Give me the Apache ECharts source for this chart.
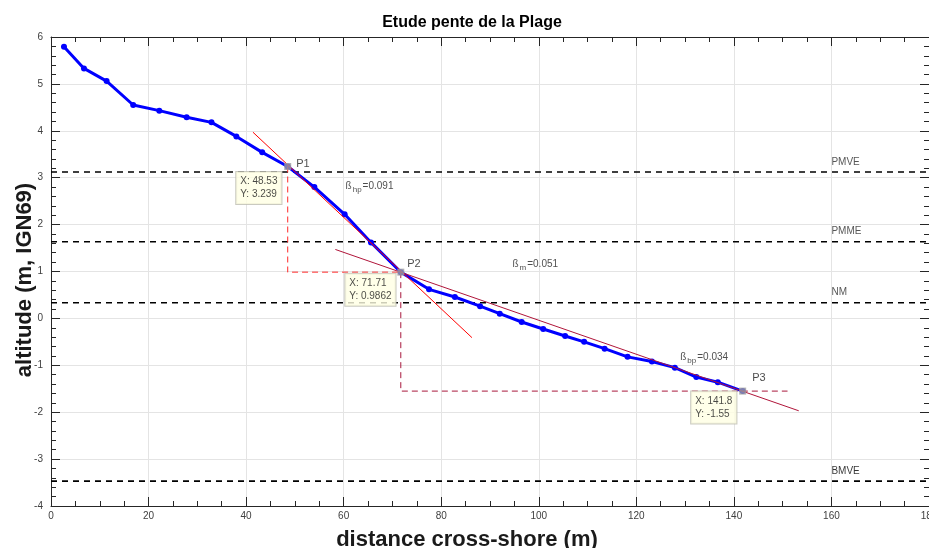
<!DOCTYPE html>
<html>
<head>
<meta charset="utf-8">
<script src="https://cdn.jsdelivr.net/npm/echarts@6/dist/echarts.min.js"></script>
<style>html,body{margin:0;padding:0;background:#fff;}#c{width:929px;height:548px;}</style>
</head>
<body>
<div id="c"></div>
<script>
// ---- data ----
var profileX = [2.66, 6.76, 11.4, 16.85, 22.2, 27.8, 32.9, 38.0, 43.3, 48.53, 54.0, 60.2, 65.6, 71.71, 77.5, 82.8, 87.96, 92.0, 96.5, 100.9, 105.4, 109.3, 113.5, 118.2, 123.2, 127.9, 132.3, 136.7, 141.8];
var profileY = [5.79, 5.33, 5.06, 4.55, 4.43, 4.29, 4.18, 3.88, 3.54, 3.239, 2.80, 2.22, 1.62, 0.9862, 0.62, 0.456, 0.26, 0.10, -0.077, -0.226, -0.375, -0.50, -0.645, -0.82, -0.92, -1.05, -1.25, -1.36, -1.55];
var keyPointsX = [48.53, 71.71, 141.8];
var keyPointsY = [3.239, 0.9862, -1.55];
var keyNames = ['P1', 'P2', 'P3'];
var upperFitX = [41.4, 86.3];
var upperFitY = [3.97, -0.41];
var lowerFitX = [58.3, 153.3];
var lowerFitY = [1.47, -1.97];
var lowerDashEndX = 151;
var levelNames = ['PMVE', 'PMME', 'NM', 'BMVE'];
var levelValues = [3.12, 1.635, 0.335, -3.47];
var levelLabelX = 160;
var slopeSubs = ['hp', 'm', 'bp'];
var slopeValues = ['0.091', '0.051', '0.034'];
var slopeLabelX = [60.4, 94.6, 129.0];
var slopeLabelY = [2.82, 1.16, -0.82];
var xTicks = {min: 0, max: 180, interval: 20};
var yTicks = {min: -4, max: 6, interval: 1};

// ---- build option ----
function zip(a, b) { return a.map(function (v, i) { return [v, b[i]]; }); }

var axisCol = '#262626';
var labCol = '#404040';
var font = 'Liberation Sans, Arial, Helvetica, sans-serif';

var series = [];

// horizontal tide levels
levelValues.forEach(function (lv, i) {
  series.push({
    type: 'line', xAxisIndex: 0, yAxisIndex: 0, silent: true, symbol: 'none', z: 2,
    data: [[xTicks.min, lv], [xTicks.max, lv]],
    lineStyle: {color: '#000', width: 1.6, type: [6, 5]}
  });
  series.push({
    type: 'scatter', xAxisIndex: 0, yAxisIndex: 0, silent: true, symbolSize: 0, z: 3,
    data: [[levelLabelX, lv]],
    label: {show: true, position: 'right', distance: 0, offset: [0, -10],
      formatter: levelNames[i], fontSize: 10, fontFamily: font,
      color: levelNames[i] === 'BMVE' ? '#000' : '#2a2a2a'}
  });
});

// profile
series.push({
  type: 'line', xAxisIndex: 0, yAxisIndex: 0, silent: true, z: 4,
  data: zip(profileX, profileY),
  symbol: 'circle', symbolSize: 6,
  itemStyle: {color: '#0000ff'},
  lineStyle: {color: '#0000ff', width: 3}
});

// fit lines
series.push({
  type: 'line', silent: true, symbol: 'none', z: 5,
  data: zip(upperFitX, upperFitY),
  lineStyle: {color: '#ff0000', width: 1}
});
series.push({
  type: 'line', silent: true, symbol: 'none', z: 5,
  data: zip(lowerFitX, lowerFitY),
  lineStyle: {color: '#b0153a', width: 1}
});

// construction dashed lines
series.push({
  type: 'line', silent: true, symbol: 'none', z: 5,
  data: [[keyPointsX[0], keyPointsY[0]], [keyPointsX[0], keyPointsY[1]], [keyPointsX[1], keyPointsY[1]]],
  lineStyle: {color: '#ff2a2a', width: 1, type: [6, 4]}
});
series.push({
  type: 'line', silent: true, symbol: 'none', z: 5,
  data: [[keyPointsX[1], keyPointsY[1]], [keyPointsX[1], keyPointsY[2]], [lowerDashEndX, keyPointsY[2]]],
  lineStyle: {color: '#a8183c', width: 1, type: [6, 4]}
});

// slope labels
slopeSubs.forEach(function (s, i) {
  series.push({
    type: 'scatter', silent: true, symbolSize: 0, z: 6,
    data: [[slopeLabelX[i], slopeLabelY[i]]],
    label: {
      show: true, position: 'right', distance: 0,
      formatter: '{a|ß}{b|' + s + '}{a|=' + slopeValues[i] + '}',
      rich: {
        a: {fontSize: 10, fontFamily: font, color: '#222'},
        b: {fontSize: 8, fontFamily: font, color: '#222', padding: [8, 1, 0, 1]}
      }
    }
  });
});

// key point markers
var nameOffsets = [[3, -3], [1, -8], [4, -13]];
series.push({
  type: 'scatter', silent: true, symbol: 'rect', symbolSize: 7, z: 8,
  itemStyle: {color: '#9e9e9e'},
  data: keyPointsX.map(function (x, i) {
    return {value: [x, keyPointsY[i]],
      label: {show: true, position: 'right', distance: 2, offset: nameOffsets[i],
        formatter: keyNames[i], fontSize: 11, fontFamily: font, color: '#1a1a1a'}};
  })
});

// data tips
var tipPos = [[-51, 6], [-55, 2], [-51, 1]];
series.push({
  type: 'scatter', silent: true, symbolSize: 1, z: 9,
  itemStyle: {color: 'rgba(0,0,0,0)'},
  data: keyPointsX.map(function (x, i) {
    return {value: [x, keyPointsY[i]],
      label: {show: true, position: tipPos[i], align: 'left', verticalAlign: 'top',
        formatter: 'X: ' + x + '\nY: ' + keyPointsY[i],
        fontSize: 10, lineHeight: 13, fontFamily: font, color: '#1a1a1a',
        backgroundColor: '#ffffe3', borderColor: '#bdbdb0', borderWidth: 1,
        padding: [3, 4, 3, 4]}};
  })
});

var option = {
  animation: false,
  backgroundColor: '#fff',
  title: {
    text: 'Etude pente de la Plage', left: 467, top: 10, textAlign: 'center',
    textStyle: {fontSize: 16, fontWeight: 'bold', color: '#000', fontFamily: font}
  },
  grid: {left: 51, right: 0, top: 37, bottom: 42, containLabel: false, outerBoundsMode: 'none'},
  xAxis: [{
    type: 'value', min: xTicks.min, max: xTicks.max, interval: xTicks.interval,
    axisLine: {show: true, onZero: false, lineStyle: {color: axisCol, width: 1}},
    axisTick: {show: true, inside: true, length: 9, lineStyle: {color: axisCol}},
    minorTick: {show: true, splitNumber: 4, length: 5, lineStyle: {color: axisCol}},
    axisLabel: {fontSize: 10, color: labCol, margin: 5, fontFamily: font},
    splitLine: {show: true, lineStyle: {color: '#e4e4e4', width: 1}}
  }, {
    type: 'value', position: 'top', min: xTicks.min, max: xTicks.max, interval: xTicks.interval,
    axisLine: {show: true, onZero: false, lineStyle: {color: axisCol, width: 1}},
    axisTick: {show: true, inside: true, length: 9, lineStyle: {color: axisCol}},
    minorTick: {show: true, splitNumber: 4, length: 5, lineStyle: {color: axisCol}},
    axisLabel: {show: false}, splitLine: {show: false}
  }],
  yAxis: [{
    type: 'value', min: yTicks.min, max: yTicks.max, interval: yTicks.interval,
    axisLine: {show: true, onZero: false, lineStyle: {color: axisCol, width: 1}},
    axisTick: {show: true, inside: true, length: 9, lineStyle: {color: axisCol}},
    minorTick: {show: true, splitNumber: 5, length: 5, lineStyle: {color: axisCol}},
    axisLabel: {fontSize: 10, color: labCol, margin: 8, fontFamily: font},
    splitLine: {show: true, lineStyle: {color: '#e4e4e4', width: 1}}
  }, {
    type: 'value', position: 'right', min: yTicks.min, max: yTicks.max, interval: yTicks.interval,
    axisLine: {show: true, onZero: false, lineStyle: {color: axisCol, width: 1}},
    axisTick: {show: true, inside: true, length: 9, lineStyle: {color: axisCol}},
    minorTick: {show: true, splitNumber: 5, length: 5, lineStyle: {color: axisCol}},
    axisLabel: {show: false}, splitLine: {show: false}
  }],
  graphic: [{
    type: 'text', x: 467, y: 540,
    style: {text: 'distance cross-shore (m)', fill: '#1a1a1a', font: 'bold 22px ' + font,
      textAlign: 'center', textVerticalAlign: 'middle'}
  }, {
    type: 'text', x: 25, y: 280, rotation: Math.PI / 2,
    style: {text: 'altitude (m, IGN69)', fill: '#1a1a1a', font: 'bold 22px ' + font,
      textAlign: 'center', textVerticalAlign: 'middle'}
  }],
  series: series
};

var chart = echarts.init(document.getElementById('c'), null, {renderer: 'canvas'});
chart.setOption(option);
</script>
</body>
</html>
